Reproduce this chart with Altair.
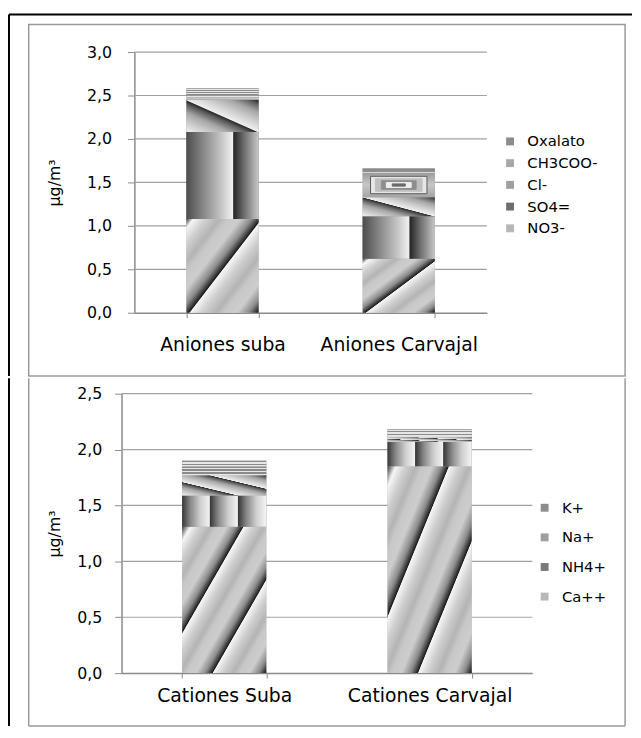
import altair as alt
import pandas as pd

# ---------------- data ----------------
anion_cats = ["Aniones suba", "Aniones Carvajal"]
anion_species = ["NO3-", "SO4=", "Cl-", "CH3COO-", "Oxalato"]
anion_suba = [1.08, 1.00, 0.37, 0.03, 0.10]
anion_carvajal = [0.62, 0.49, 0.22, 0.28, 0.05]

cation_cats = ["Cationes Suba", "Cationes Carvajal"]
cation_species = ["Ca++", "NH4+", "Na+", "K+"]
cation_suba = [1.31, 0.28, 0.18, 0.13]
cation_carvajal = [1.85, 0.22, 0.04, 0.07]

y_ticks_top = [0.0, 0.5, 1.0, 1.5, 2.0, 2.5, 3.0]
y_ticks_bottom = [0.0, 0.5, 1.0, 1.5, 2.0, 2.5]

anion_legend_colors = ["#8c8c8c", "#a8a8a8", "#9e9e9e", "#6e6e6e", "#b8b8b8"]
cation_legend_colors = ["#8c8c8c", "#9e9e9e", "#7a7a7a", "#b8b8b8"]


def make_df(cats, species, series):
    rows = []
    for cat, vals in zip(cats, series):
        for i, (sp, v) in enumerate(zip(species, vals)):
            rows.append({"cat": cat, "species": sp, "value": v, "idx": i})
    return pd.DataFrame(rows)


df_top = make_df(anion_cats, anion_species, [anion_suba, anion_carvajal])
df_bot = make_df(cation_cats, cation_species, [cation_suba, cation_carvajal])

# ---------------- gradient helpers ----------------
def repeat(period, n, start=0.0):
    out = []
    for k in range(n):
        for o, c in period:
            out.append((start + (k + o) * (1 - start) / n, c))
    return out


def lin(stops, x1, y1, x2, y2):
    return alt.LinearGradient(
        gradient="linear",
        stops=[alt.GradientStop(offset=round(o, 4), color=c) for o, c in stops],
        x1=x1, y1=y1, x2=x2, y2=y2,
    )


diag_period = [(0, "#f6f6f6"), (0.18, "#cfcfcf"), (0.38, "#b4b4b4"), (0.5, "#c8c8c8"),
               (0.68, "#cdcdcd"), (0.85, "#8c8c8c"), (0.95, "#3a3a3a"), (0.985, "#1c1c1c")]
back_period = [(0, "#efefef"), (0.3, "#cdcdcd"), (0.6, "#a6a6a6"), (0.85, "#5e5e5e"), (0.97, "#2c2c2c")]
vert_period = [(0, "#383838"), (0.3, "#8a8a8a"), (0.65, "#cfcfcf"), (0.97, "#f2f2f2")]


def hstripes(n):
    s = []
    for i in range(n):
        s += [(i / n, "#8a8a8a"), ((i + 0.45) / n, "#8a8a8a"),
              ((i + 0.5) / n, "#e6e6e6"), ((i + 0.95) / n, "#e6e6e6")]
    return s


anion_fills = {
    "NO3-": lin([(0, "#3a3a3a")] + repeat(diag_period, 2, 0.05), 0, 0, 1, 1),
    "SO4=": lin([(0, "#4d4d4d"), (0.2, "#7f7f7f"), (0.45, "#bdbdbd"), (0.64, "#f0f0f0"),
                 (0.655, "#262626"), (0.8, "#6e6e6e"), (1, "#c8c8c8")], 0, 0, 1, 0),
    "Cl-": lin(repeat(back_period, 2), 0, 1, 1, 0),
    "CH3COO-": lin([(0, "#9c9c9c"), (0.5, "#c6c6c6"), (1, "#a4a4a4")], 0, 0, 0, 1),
    "Oxalato": lin(hstripes(5), 0, 0, 0, 1),
}
cation_fills = {
    "Ca++": lin([(0, "#3a3a3a")] + repeat(diag_period, 3, 0.05), 0, 0, 1, 1),
    "NH4+": lin(repeat(vert_period, 3), 0, 0, 1, 0),
    "Na+": lin(repeat(back_period, 3), 0, 1, 1, 0),
    "K+": lin(hstripes(5), 0, 0, 0, 1),
}
# concentric-rectangle look for CH3COO- (inset px horizontal, inset px vertical, fill, stroke)
rings = [
    (8, 3.5, "#e6e6e6", "#5a5a5a"),
    (13, 6.0, "#bfbfbf", "#bfbfbf"),
    (19, 8.0, "#8e8e8e", "#8e8e8e"),
    (24, 9.8, "#eeeeee", "#eeeeee"),
    (30, 11.2, "#6a6a6a", "#6a6a6a"),
]

FONT = "DejaVu Sans"
GRID = "#a0a0a0"
AXC = "#8a8a8a"
BOX = "#9a9a9a"
label_expr = "replace(format(datum.value, '.1f'), '.', ',')"

# both panels share the same plot origin x (page x = 123)
ORIGIN_X = 123


def panel(df, cats, species, fills, legend_colors, yticks, ymax, width, height,
          x_start, y_label_pad, x_label_pad, title_x, legend_x, legend_y, row_pad,
          frame_layers, ring_species=None):
    xs = alt.Scale(paddingInner=0.59, paddingOuter=0.295, range=[x_start, width])
    ys = alt.Scale(domain=[0, ymax], nice=False)
    x_axis = alt.Axis(labelAngle=0, labelFontSize=19, labelColor="black", labelFont=FONT,
                      labelPadding=x_label_pad, tickBand="extent", tickSize=5,
                      tickColor=AXC, domainColor=AXC, domainWidth=1.5, grid=False)
    y_axis = alt.Axis(values=yticks, labelExpr=label_expr, grid=False, offset=-x_start,
                      domainColor=AXC, domainWidth=1.5, tickColor=AXC,
                      tickSize=7, labelPadding=y_label_pad, labelFontSize=16,
                      labelColor="black", labelFont=FONT, titleFontSize=16,
                      titleFontWeight="normal", titleColor="black", titleFont=FONT,
                      titleX=title_x, titleBaseline="middle")
    x_enc = alt.X("cat:N", sort=cats, scale=xs, axis=x_axis, title=None)
    y_enc = alt.Y("y0:Q", scale=ys, axis=y_axis, title="μg/m³")
    y2_enc = alt.Y2("y1:Q")

    def stacked(ch):
        return ch.transform_stack(stack="value", groupby=["cat"], as_=["y0", "y1"],
                                  sort=[alt.SortField("idx", order="ascending")])

    layers = list(frame_layers)

    # horizontal gridlines through the y scale
    grid_df = alt.Data(values=[{"v": v} for v in yticks if v > 0])
    layers.append(
        alt.Chart(grid_df).mark_rule(color=GRID, strokeWidth=1.2).encode(
            y=alt.Y("v:Q", scale=ys, axis=y_axis, title="μg/m³"),
            x=alt.value(x_start), x2=alt.value(width))
    )

    legend = alt.Legend(orient="none", legendX=legend_x, legendY=legend_y,
                        symbolType="square", symbolSize=64, symbolStrokeWidth=0,
                        labelFontSize=15, labelFont=FONT, labelColor="black",
                        rowPadding=row_pad, labelOffset=10, padding=0)
    base = stacked(alt.Chart()).mark_bar().encode(
        x=x_enc, y=y_enc, y2=y2_enc,
        color=alt.Color("species:N", title=None, legend=legend,
                        scale=alt.Scale(domain=list(reversed(species)), range=legend_colors)),
    )
    layers.append(base)
    for sp in species:
        layers.append(
            stacked(alt.Chart()).transform_filter(alt.datum.species == sp)
            .mark_bar(fill=fills[sp])
            .encode(x=x_enc, y=y_enc, y2=y2_enc)
        )
    if ring_species:
        full_w = (width - x_start) / 2 * (1 - 0.59)
        for dx, dy, fc, sc in rings:
            layers.append(
                stacked(alt.Chart())
                .transform_filter((alt.datum.species == ring_species) & (alt.datum.value > 0.1))
                .mark_bar(fill=fc, stroke=sc, strokeWidth=1, width=full_w - 2 * dx,
                          yOffset=-dy, y2Offset=dy)
                .encode(x=x_enc, y=y_enc, y2=y2_enc)
            )
    return alt.layer(*layers, data=df).properties(width=width, height=height)


one = alt.Data(values=[{"a": 1}])


def vrule(x, y0, y1, color, w):
    return alt.Chart(one).mark_rule(color=color, strokeWidth=w).encode(
        x=alt.value(x), y=alt.value(y0), y2=alt.value(y1))


def hrule(x0, x1, y, color, w):
    return alt.Chart(one).mark_rule(color=color, strokeWidth=w).encode(
        x=alt.value(x0), x2=alt.value(x1), y=alt.value(y))


# top panel: plot area page x 136..493, y 48..312
top_frame = [
    alt.Chart(one).mark_rect(fillOpacity=0, stroke=BOX, strokeWidth=1.5).encode(
        x=alt.value(29 - ORIGIN_X), x2=alt.value(633 - ORIGIN_X),
        y=alt.value(-28), y2=alt.value(328)),
    vrule(9 - ORIGIN_X, -38, 328, "black", 2),
    hrule(9 - ORIGIN_X, 640 - ORIGIN_X, -38, "black", 2),
]
top = panel(df_top, anion_cats, anion_species, anion_fills, anion_legend_colors,
            y_ticks_top, 3.0, 493 - ORIGIN_X, 264, 136 - ORIGIN_X, 16, 18.5, -81,
            509 - ORIGIN_X, 83, 6, top_frame, ring_species="CH3COO-")

# bottom panel: plot area page x 123..539, y 392.5..675.5
B0, B1 = -15.75, 336.5
bottom_frame = [
    vrule(29 - ORIGIN_X, B0, B1, BOX, 1.5),
    vrule(633 - ORIGIN_X, B0, B1, BOX, 1.5),
    hrule(29 - ORIGIN_X, 633 - ORIGIN_X, B1, BOX, 1.5),
    vrule(9 - ORIGIN_X, B0, B1, "black", 2),
]
bottom = panel(df_bot, cation_cats, cation_species, cation_fills, cation_legend_colors,
               y_ticks_bottom, 2.5, 539 - ORIGIN_X, 283, 0, 13, 9, -68,
               544 - ORIGIN_X, 108, 14, bottom_frame)

chart = (
    alt.vconcat(top, bottom, spacing=0)
    .resolve_scale(x="independent", y="independent", color="independent")
    .resolve_legend(color="independent")
    .properties(padding={"left": 0, "top": 1, "right": 0, "bottom": 0})
    .configure(font=FONT)
    .configure_view(strokeWidth=0)
)

chart.save("out.html", embed_options={"renderer": "svg", "actions": False})
